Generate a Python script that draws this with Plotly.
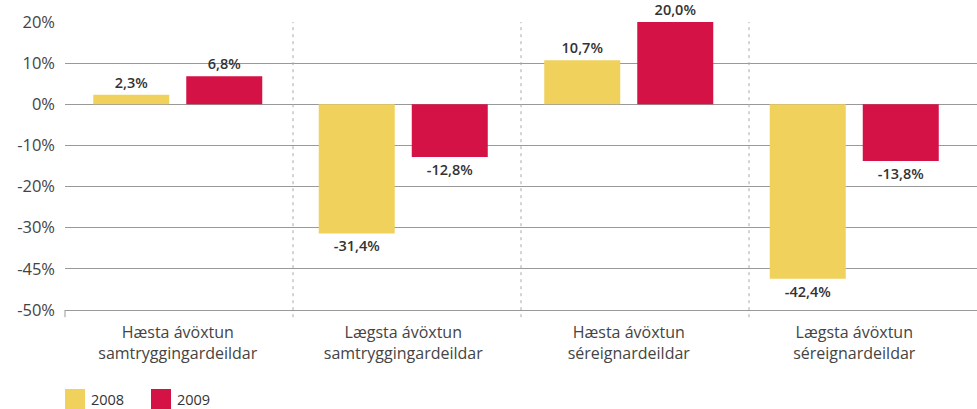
import plotly.graph_objects as go

categories = ["Hæsta ávöxtun<br>samtryggingardeildar",
              "Lægsta ávöxtun<br>samtryggingardeildar",
              "Hæsta ávöxtun<br>séreignardeildar",
              "Lægsta ávöxtun<br>séreignardeildar"]
values_2008 = [2.3, -31.4, 10.7, -42.4]
values_2009 = [6.8, -12.8, 20.0, -13.8]
labels_2008 = ["2,3%", "-31,4%", "10,7%", "-42,4%"]
labels_2009 = ["6,8%", "-12,8%", "20,0%", "-13,8%"]
tick_vals = [20, 10, 0, -10, -20, -30, -40, -50]
tick_text = ["20%", "10%", "0%", "-10%", "-20%", "-30%", "-45%", "-50%"]
series_names = ["2008", "2009"]
colors = ["#EFD15B", "#D41245"]

FONT = "Open Sans"
PLOT_W = 912
CAT_SPAN = 902  # pixels taken by the categories inside the plot area

fig = go.Figure()
for name, vals, labs, col in zip(series_names, [values_2008, values_2009],
                                 [labels_2008, labels_2009], colors):
    fig.add_trace(go.Bar(
        x=list(range(len(categories))), y=vals, name=name,
        marker=dict(color=col, line=dict(width=0)),
        text=labs, textposition="outside", texttemplate="%{text}",
        textfont=dict(family=FONT, size=14.5, color="#333333", weight=600),
        cliponaxis=False, showlegend=False,
    ))

# dashed separators between panels
for i in range(1, len(categories)):
    fig.add_shape(type="line", xref="paper", yref="paper", x0=i / 4, x1=i / 4,
                  y0=-0.025, y1=1, line=dict(color="#aaaaaa", width=1, dash="3px,4px"))
# left tick at axis start
fig.add_shape(type="line", xref="paper", yref="paper", x0=0, x1=0,
              y0=-0.025, y1=0, line=dict(color="#999999", width=1))

# legend (manual)
for i, (name, col) in enumerate(zip(series_names, colors)):
    x0 = i * 86 / PLOT_W
    fig.add_shape(type="rect", xref="paper", yref="paper",
                  x0=x0, x1=x0 + 20 / PLOT_W, y0=-79 / 288, y1=-99 / 288,
                  fillcolor=col, line=dict(width=0))
    fig.add_annotation(xref="paper", yref="paper", x=x0 + 24 / PLOT_W, y=-89 / 288,
                       text=name, showarrow=False, xanchor="left", yanchor="middle",
                       font=dict(family=FONT, size=14.5, color="#333333"))

n = len(categories)
fig.update_layout(
    width=977, height=409,
    margin=dict(l=65, r=0, t=22, b=99),
    paper_bgcolor="white", plot_bgcolor="white",
    barmode="group", bargap=0.175, bargroupgap=0.183,
    font=dict(family=FONT, size=16, color="#444444"),
    xaxis=dict(showgrid=False, showline=True, linecolor="#999999", linewidth=1,
               range=[-0.5, -0.5 + n * PLOT_W / CAT_SPAN],
               tickmode="array", tickvals=list(range(n)), ticktext=categories,
               ticks="", ticklabelstandoff=8,
               tickfont=dict(family=FONT, size=16, color="#444444")),
    yaxis=dict(range=[-50, 20], tickvals=tick_vals, ticktext=tick_text,
               showgrid=True, gridcolor="#999999", gridwidth=1, zeroline=True,
               zerolinecolor="#999999", zerolinewidth=1, ticks="", ticklabelstandoff=9,
               tickfont=dict(family=FONT, size=16.5, color="#444444")),
)

fig.write_html("out.html", config={"displayModeBar": False},
               post_script="document.body.style.margin='0';document.body.style.overflow='hidden';")
